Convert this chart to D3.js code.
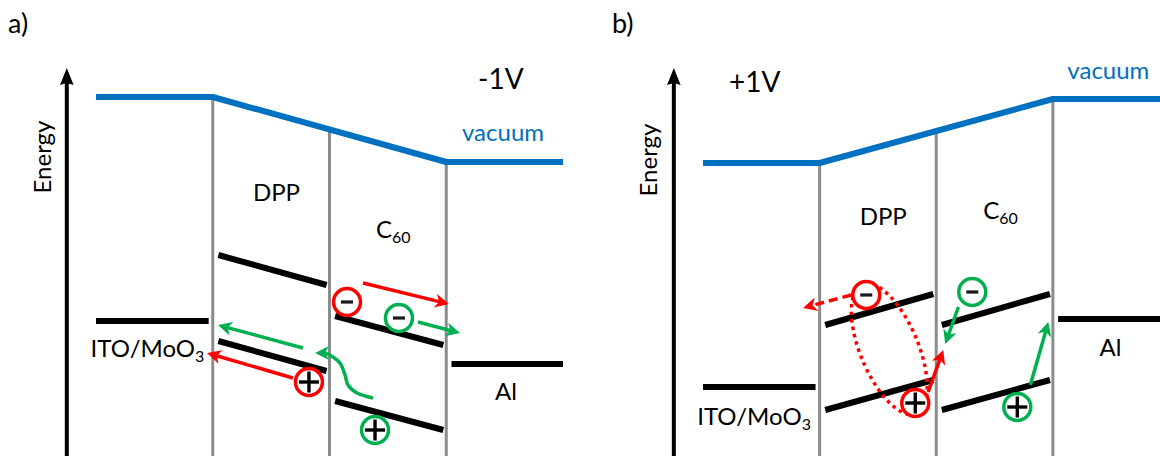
<!DOCTYPE html>
<html>
<head>
<meta charset="utf-8">
<script src="https://cdn.jsdelivr.net/npm/d3@7"></script>
<style>
  html, body { margin: 0; padding: 0; background: #fff; }
  svg { display: block; font-family: Lato, "Open Sans", sans-serif; }
</style>
</head>
<body>
<svg id="chart" width="1160" height="456"></svg>
<script>
// ---- Data (energies in arbitrary units, layer positions 0..4) ----
const panelLetters = ['a)', 'b)'];
const biasLabels = ['-1V', '+1V'];
const interfaces = [1, 2, 3];               // ITO|DPP, DPP|C60, C60|Al
const vacuumPos = [0, 1, 3, 4];
const vacuumA = [35.6, 35.6, 29.1, 29.1];
const vacuumB = [29.0, 29.0, 35.4, 35.4];
const electrodeNames = ['ITO/MoO', 'Al'];
const electrodeA = [13.2, 8.9];             // ITO/MoO3, Al
const electrodeB = [6.6, 13.4];
const organicNames = ['DPP', 'C'];
const lumoA = [[19.8, 16.8], [13.7, 10.8]]; // DPP, C60 (start, end)
const homoA = [[11.2, 8.2], [5.2, 2.3]];
const lumoB = [[12.8, 15.9], [12.8, 15.9]];
const homoB = [[4.3, 7.3], [4.3, 7.3]];

const chargesA = [
  { x: 2.15,  e: 15.1, sign: '-', c: 'red' },
  { x: 2.595, e: 13.5, sign: '-', c: 'green' },
  { x: 1.824, e: 7.1,  sign: '+', c: 'red' },
  { x: 2.39,  e: 2.3,  sign: '+', c: 'green' }
];
const chargesB = [
  { x: 1.40,  e: 15.8, sign: '-', c: 'red' },
  { x: 1.82,  e: 5.0,  sign: '+', c: 'red' },
  { x: 2.309, e: 16.1, sign: '-', c: 'green' },
  { x: 2.695, e: 4.6,  sign: '+', c: 'green' }
];
const arrowsA = [
  { c: 'red',   pts: [[2.287, 17.0], [3.023, 14.9]] },
  { c: 'green', pts: [[2.758, 13.1], [3.118, 12.0]] },
  { c: 'green', pts: [[1.773, 10.5], [1.045, 12.8]] },
  { c: 'red',   pts: [[1.687, 7.5], [0.951, 10.0]] },
  { c: 'green', curve: true, pts: [[2.373, 5.5], [2.236, 6.0], [2.158, 6.8], [2.133, 7.8],
                                   [2.09, 9.0], [2.03, 9.6], [1.961, 10.0], [1.876, 10.0]] }
];
const arrowsB = [
  { c: 'red',   dashed: true, pts: [[1.27, 15.8], [0.858, 14.5]] },
  { c: 'red',   pts: [[1.931, 6.1], [2.06, 10.3]] },
  { c: 'green', pts: [[2.19, 14.6], [2.077, 10.9]] },
  { c: 'green', pts: [[2.807, 6.8], [2.961, 13.1]] }
];
const excitonB = [1.597, 10.4];             // bound pair outline centre

// ---- Styling ----
const colors = { red: '#ff0000', green: '#00b050', blue: '#0070c0', gray: '#8c8c8c', black: '#000' };
const svg = d3.select('#chart');
const y = d3.scaleLinear().domain([0, 40]).range([453, 53]);

const panels = [
  { letter: panelLetters[0], bias: biasLabels[0], range: [96, 563], vac: vacuumA, el: electrodeA,
    lumo: lumoA, homo: homoA, charges: chargesA, arrows: arrowsA,
    labels: { energy: [-0.47, 29.6], bias: [3.272, 36.4], vac: [3.135, 31.2], dpp: [1.546, 25.2],
              c60: [2.398, 21.5], ito: [0.441, 9.6], al: [3.512, 5.3] } },
  { letter: panelLetters[1], bias: biasLabels[1], range: [703, 1169.5], vac: vacuumB, el: electrodeB,
    lumo: lumoB, homo: homoB, charges: chargesB, arrows: arrowsB, exciton: excitonB,
    labels: { energy: [-0.48, 29.3], bias: [0.223, 36.1], vac: [3.124, 37.4], dpp: [1.545, 22.8],
              c60: [2.403, 23.4], ito: [0.438, 2.8], al: [3.494, 9.7] } }
];

function arrowHead(g, x1, y1, x2, y2, col, len = 14, half = 7, notch = 4) {
  const a = Math.atan2(y2 - y1, x2 - x1);
  const pts = [[0, 0], [-len, -half], [-len + notch, 0], [-len, half]].map(([u, v]) => [
    x2 + u * Math.cos(a) - v * Math.sin(a),
    y2 + u * Math.sin(a) + v * Math.cos(a)
  ]);
  g.append('path').attr('d', 'M' + pts.join('L') + 'Z').attr('fill', col);
}

panels.forEach((p, i) => {
  const x = d3.scaleLinear().domain([0, 4]).range(p.range);
  const g = svg.append('g');
  const L = p.labels;

  // panel letter
  g.append('text').attr('x', p.range[0] - 88 - (i ? 3 : 0)).attr('y', 33)
    .attr('font-size', 27).text(p.letter);

  // energy axis arrow
  const ax = x(-0.25);
  g.append('line').attr('x1', ax).attr('x2', ax).attr('y1', 456).attr('y2', y(37.5))
    .attr('stroke', colors.black).attr('stroke-width', 4);
  arrowHead(g, ax, 200, ax, y(38.5), colors.black, 17, 6.8, 2);
  g.append('text').attr('transform', `translate(${x(L.energy[0])},${y(L.energy[1])}) rotate(-90)`)
    .attr('text-anchor', 'middle').attr('dominant-baseline', 'central')
    .attr('font-size', 24).text('Energy');

  // interfaces (gray), from vacuum level down to the bottom
  const vacAt = d3.scaleLinear().domain(vacuumPos).range(p.vac);
  g.selectAll('line.iface').data(interfaces).join('line').attr('class', 'iface')
    .attr('x1', d => x(d)).attr('x2', d => x(d))
    .attr('y1', d => y(vacAt(d))).attr('y2', 456)
    .attr('stroke', colors.gray).attr('stroke-width', 3);

  // vacuum level
  g.append('path')
    .attr('d', d3.line().x(d => x(d[0])).y(d => y(d[1]))(vacuumPos.map((v, k) => [v, p.vac[k]])))
    .attr('fill', 'none').attr('stroke', colors.blue).attr('stroke-width', 6)
    .attr('stroke-linejoin', 'bevel');

  // electrode levels
  const elSpans = [[0, 0.965], [3.045, 4]];
  g.selectAll('line.el').data(p.el).join('line').attr('class', 'el')
    .attr('x1', (d, k) => x(elSpans[k][0])).attr('x2', (d, k) => x(elSpans[k][1]))
    .attr('y1', d => y(d)).attr('y2', d => y(d))
    .attr('stroke', colors.black).attr('stroke-width', 6);

  // tilted molecular levels (DPP in layer 1, C60 in layer 2)
  const levels = [];
  [p.lumo, p.homo].forEach(arr => arr.forEach((d, k) => levels.push({ layer: k + 1, e: d })));
  g.selectAll('line.lvl').data(levels).join('line').attr('class', 'lvl')
    .attr('x1', d => x(d.layer + 0.048)).attr('x2', d => x(d.layer + 0.975))
    .attr('y1', d => y(d.e[0])).attr('y2', d => y(d.e[1]))
    .attr('stroke', colors.black).attr('stroke-width', 6);

  // labels
  g.append('text').attr('x', x(L.bias[0])).attr('y', y(L.bias[1])).attr('font-size', 28).text(p.bias);
  g.append('text').attr('x', x(L.vac[0])).attr('y', y(L.vac[1])).attr('font-size', 24)
    .attr('fill', colors.blue).text('vacuum');
  g.append('text').attr('x', x(L.dpp[0])).attr('y', y(L.dpp[1])).attr('font-size', 24)
    .attr('text-anchor', 'middle').text(organicNames[0]);
  const c60 = g.append('text').attr('x', x(L.c60[0])).attr('y', y(L.c60[1])).attr('font-size', 24);
  c60.append('tspan').text(organicNames[1]);
  c60.append('tspan').attr('font-size', 16).attr('dy', 5).text('60');
  const ito = g.append('text').attr('x', x(L.ito[0])).attr('y', y(L.ito[1])).attr('font-size', 24)
    .attr('text-anchor', 'middle');
  ito.append('tspan').text(electrodeNames[0]);
  ito.append('tspan').attr('font-size', 16).attr('dy', 5).text('3');
  g.append('text').attr('x', x(L.al[0])).attr('y', y(L.al[1])).attr('font-size', 24)
    .attr('text-anchor', 'middle').text(electrodeNames[1]);

  // carrier transfer arrows
  const curve = d3.line().x(d => x(d[0])).y(d => y(d[1])).curve(d3.curveCatmullRom.alpha(0.5));
  p.arrows.forEach(a => {
    const col = colors[a.c];
    const px = a.pts.map(d => [x(d[0]), y(d[1])]);
    const n = px.length;
    const [x1, y1] = px[n - 2], [x2, y2] = px[n - 1];
    const ang = Math.atan2(y2 - y1, x2 - x1);
    const shortened = a.pts.slice();
    const endPx = [x2 - 9 * Math.cos(ang), y2 - 9 * Math.sin(ang)];
    shortened[n - 1] = [x.invert(endPx[0]), y.invert(endPx[1])];
    g.append('path').attr('d', a.curve ? curve(shortened) : d3.line().x(d => x(d[0])).y(d => y(d[1]))(shortened))
      .attr('fill', 'none').attr('stroke', col).attr('stroke-width', 3.5)
      .attr('stroke-dasharray', a.dashed ? '9,5' : null);
    arrowHead(g, x1, y1, x2, y2, col);
  });

  // bound electron-hole pair outline
  if (p.exciton) {
    g.append('ellipse')
      .attr('transform', `translate(${x(p.exciton[0])},${y(p.exciton[1])}) rotate(67.4)`)
      .attr('rx', 70).attr('ry', 29)
      .attr('fill', 'none').attr('stroke', colors.red).attr('stroke-width', 3.5)
      .attr('stroke-dasharray', '3.5,4');
  }

  // charges
  const cg = g.selectAll('g.charge').data(p.charges).join('g').attr('class', 'charge')
    .attr('transform', d => `translate(${x(d.x)},${y(d.e)})`);
  cg.append('circle').attr('r', 13.5).attr('fill', '#fff')
    .attr('stroke', d => colors[d.c]).attr('stroke-width', 3.5);
  cg.filter(d => d.sign === '-').append('rect')
    .attr('x', -6).attr('y', -1.6).attr('width', 12).attr('height', 3.2).attr('fill', '#1a1a1a');
  const plus = cg.filter(d => d.sign === '+');
  plus.append('line').attr('x1', -10).attr('x2', 10).attr('stroke', '#000').attr('stroke-width', 3.4);
  plus.append('line').attr('y1', -10.5).attr('y2', 10.5).attr('stroke', '#000').attr('stroke-width', 3.4);
});
</script>
</body>
</html>
